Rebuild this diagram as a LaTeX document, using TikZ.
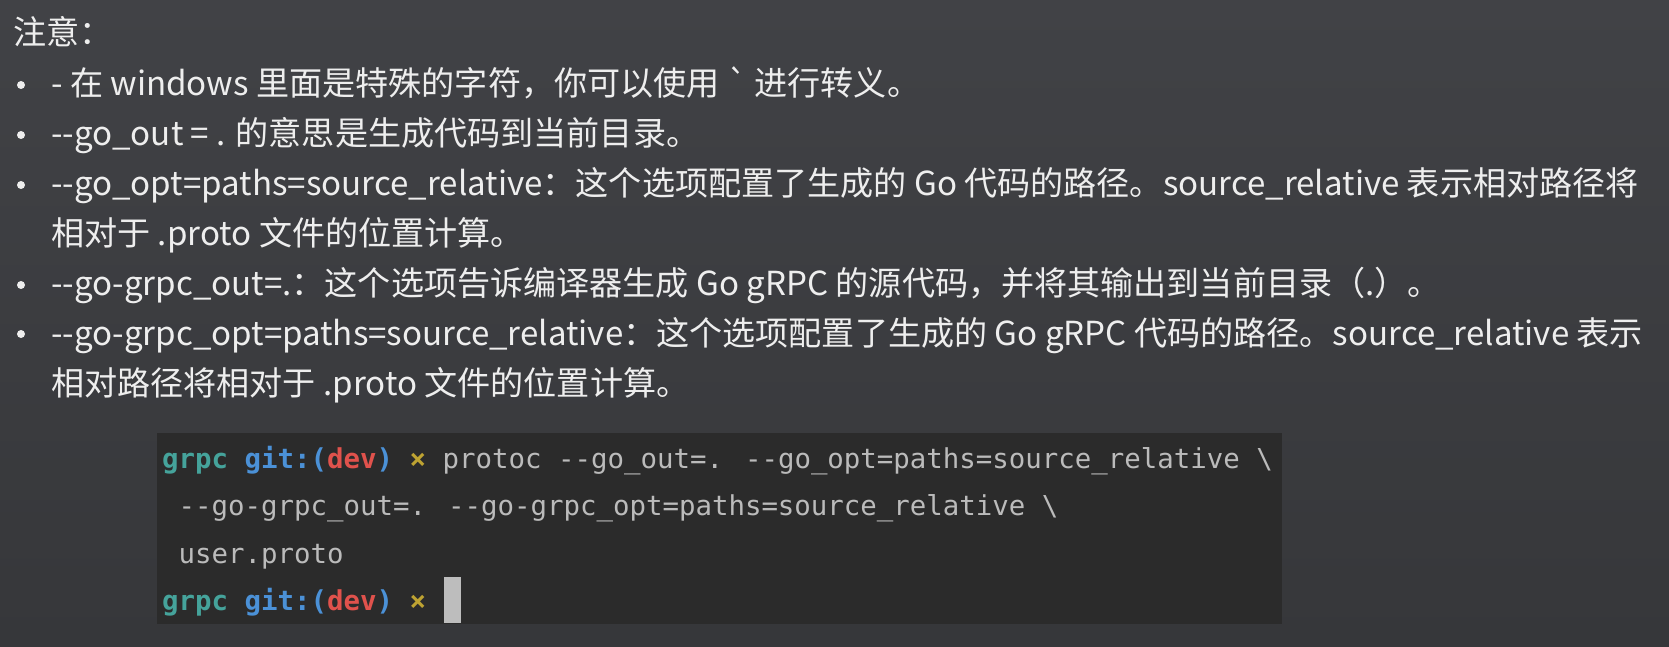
\documentclass[tikz,border=0pt]{standalone}
\usepackage{fontspec}
\usepackage{tikz}
\usepackage{xcolor}

\setmainfont{Noto Sans CJK SC}[Ligatures=TeXOff]
\newfontfamily\termfont{DejaVu Sans Mono}[Ligatures=TeXOff]

\definecolor{bgTop}{HTML}{414246}
\definecolor{bgBottom}{HTML}{36373A}
\definecolor{noteGray}{HTML}{EEEEEE}
\definecolor{termBg}{HTML}{2B2B2B}
\definecolor{termGray}{HTML}{BBBBBB}
\definecolor{grpcTeal}{HTML}{45A39B}
\definecolor{gitBlue}{HTML}{4B91D7}
\definecolor{devRed}{HTML}{E0524C}
\definecolor{crossGold}{HTML}{BEA332}
\definecolor{cursorGray}{HTML}{BDBDBD}

\newcommand{\gitprompt}{{\bfseries\color{grpcTeal}grpc \color{gitBlue}git:(\color{devRed}dev\color{gitBlue}) \color{crossGold}×}}

\begin{document}
\begin{tikzpicture}[x=1pt,y=1pt,
  notetext/.style={anchor=base west, inner sep=0pt, text=noteGray, font=\fontsize{33.1}{40}\selectfont},
  termtext/.style={anchor=base west, inner sep=0pt, text=termGray, font=\termfont\fontsize{27.4}{33}\selectfont}]
\def\W{1669}
\def\H{646}

% Draw the background
\shade[top color=bgTop, bottom color=bgBottom] (0,0) rectangle (\W,\H);
\useasboundingbox (0,0) rectangle (\W,\H);

% Heading
\node[notetext] (title) at (13,601) {注意：};

% Bullets
\foreach \y in {561,511,461,361,312} {
    \fill[noteGray] (21,\y) circle (4);
}

% Notes
\node[notetext] (escape) at (51,550) {- 在 windows 里面是特殊的字符，你可以使用 \symbol{96} 进行转义。};
\node[notetext] (goout) at (51,500) {-{}-go\_out = . 的意思是生成代码到当前目录。};
\node[notetext] (goopt) at (51,450) {-{}-go\_opt=paths=source\_relative：这个选项配置了生成的 Go 代码的路径。source\_relative 表示相对路径将};
\node[notetext] (gooptb) at (51,400) {相对于 .proto 文件的位置计算。};
\node[notetext] (grpcout) at (51,350) {-{}-go-grpc\_out=.：这个选项告诉编译器生成 Go gRPC 的源代码，并将其输出到当前目录（.）。};
\node[notetext] (grpcopt) at (51,301) {-{}-go-grpc\_opt=paths=source\_relative：这个选项配置了生成的 Go gRPC 代码的路径。source\_relative 表示};
\node[notetext] (grpcoptb) at (51,251) {相对路径将相对于 .proto 文件的位置计算。};

% Terminal
\fill[termBg] (157,22) rectangle (1282,213);
\node[termtext] (cmda) at (162,178) {\gitprompt{} protoc -{}-go\_out=. -{}-go\_opt=paths=source\_relative \textbackslash};
\node[termtext] (cmdb) at (178.5,131) {-{}-go-grpc\_out=. -{}-go-grpc\_opt=paths=source\_relative \textbackslash};
\node[termtext] (cmdc) at (178.5,83) {user.proto};
\node[termtext] (cmdd) at (162,36) {\gitprompt};
\fill[cursorGray] (444,23) rectangle (461,69);
\end{tikzpicture}
\end{document}
